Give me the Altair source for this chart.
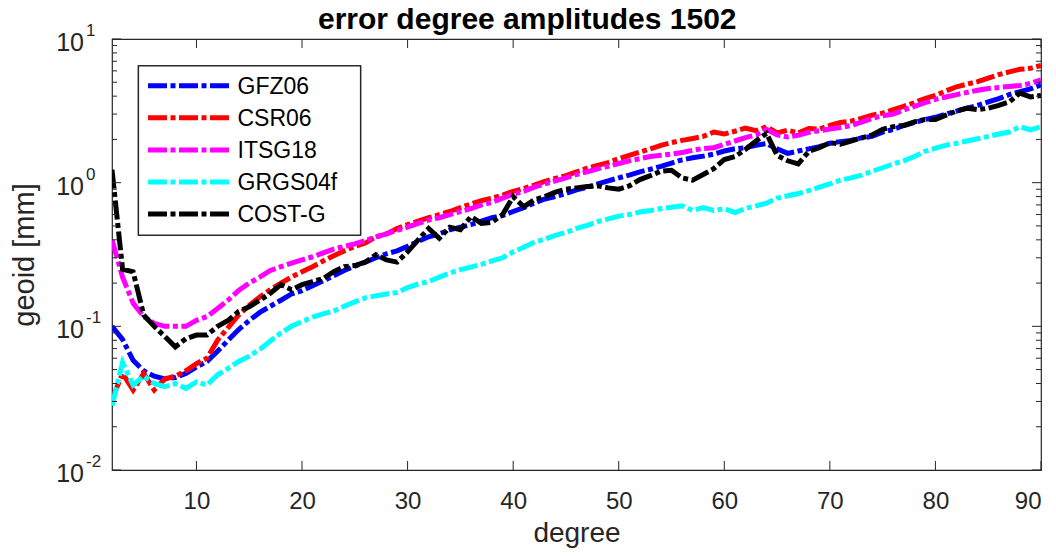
import altair as alt
import pandas as pd

degrees = list(range(2, 91))

gfz06 = [0.100, 0.081, 0.058, 0.049, 0.045, 0.043, 0.044, 0.047, 0.052, 0.057,
         0.067, 0.080, 0.095, 0.110, 0.125, 0.138, 0.152, 0.168, 0.177, 0.192,
         0.207, 0.225, 0.245, 0.262, 0.280, 0.300, 0.320, 0.335, 0.360, 0.390,
         0.420, 0.440, 0.470, 0.490, 0.510, 0.540, 0.570, 0.590, 0.630, 0.670,
         0.720, 0.770, 0.800, 0.840, 0.890, 0.930, 0.980, 1.030, 1.080, 1.130,
         1.190, 1.240, 1.300, 1.370, 1.440, 1.490, 1.530, 1.580, 1.660, 1.720,
         1.750, 1.820, 1.870, 1.720, 1.600, 1.660, 1.720, 1.780, 1.880, 1.930,
         1.970, 2.050, 2.100, 2.250, 2.350, 2.500, 2.620, 2.750, 2.850, 3.000,
         3.150, 3.300, 3.450, 3.650, 3.850, 4.100, 4.300, 4.500, 4.800]

csr06 = [0.031, 0.047, 0.036, 0.047, 0.036, 0.043, 0.045, 0.049, 0.055, 0.060,
         0.080, 0.098, 0.120, 0.140, 0.160, 0.180, 0.200, 0.220, 0.240, 0.260,
         0.285, 0.310, 0.335, 0.360, 0.380, 0.420, 0.440, 0.480, 0.510, 0.540,
         0.570, 0.600, 0.630, 0.670, 0.710, 0.750, 0.780, 0.820, 0.870, 0.910,
         0.960, 1.020, 1.070, 1.120, 1.190, 1.260, 1.320, 1.380, 1.470, 1.550,
         1.630, 1.720, 1.820, 1.900, 1.970, 2.030, 2.100, 2.250, 2.180, 2.280,
         2.400, 2.300, 2.450, 2.220, 2.320, 2.220, 2.380, 2.360, 2.500, 2.620,
         2.680, 2.800, 2.950, 3.050, 3.220, 3.400, 3.600, 3.850, 4.050, 4.350,
         4.650, 4.850, 5.050, 5.350, 5.650, 5.900, 6.150, 6.250, 6.550]

itsg18 = [0.400, 0.220, 0.145, 0.117, 0.105, 0.100, 0.100, 0.100, 0.110, 0.117,
          0.133, 0.152, 0.178, 0.200, 0.220, 0.245, 0.260, 0.275, 0.290, 0.305,
          0.325, 0.345, 0.360, 0.375, 0.395, 0.420, 0.440, 0.465, 0.490, 0.520,
          0.550, 0.570, 0.600, 0.630, 0.660, 0.700, 0.730, 0.780, 0.830, 0.870,
          0.930, 0.980, 1.030, 1.080, 1.140, 1.190, 1.250, 1.300, 1.360, 1.420,
          1.470, 1.520, 1.550, 1.580, 1.620, 1.680, 1.730, 1.750, 1.850, 1.950,
          2.060, 2.150, 2.350, 2.150, 2.080, 2.140, 2.240, 2.300, 2.360, 2.420,
          2.500, 2.640, 2.800, 2.920, 3.000, 3.200, 3.400, 3.600, 3.800, 3.950,
          4.100, 4.250, 4.400, 4.520, 4.600, 4.670, 4.750, 4.900, 5.200]

grgs04f = [0.028, 0.056, 0.039, 0.045, 0.040, 0.038, 0.040, 0.037, 0.041, 0.039,
           0.046, 0.051, 0.057, 0.062, 0.069, 0.079, 0.090, 0.100, 0.108, 0.116,
           0.122, 0.128, 0.138, 0.148, 0.158, 0.163, 0.168, 0.172, 0.186, 0.197,
           0.205, 0.220, 0.235, 0.248, 0.258, 0.270, 0.285, 0.300, 0.330, 0.355,
           0.385, 0.405, 0.430, 0.450, 0.480, 0.505, 0.535, 0.560, 0.585, 0.600,
           0.625, 0.640, 0.660, 0.675, 0.690, 0.640, 0.670, 0.640, 0.660, 0.620,
           0.660, 0.690, 0.720, 0.780, 0.810, 0.840, 0.880, 0.930, 0.980, 1.040,
           1.080, 1.130, 1.200, 1.270, 1.350, 1.420, 1.520, 1.650, 1.740, 1.820,
           1.880, 1.950, 2.020, 2.100, 2.180, 2.250, 2.450, 2.330, 2.450]

costg = [1.230, 0.250, 0.240, 0.120, 0.100, 0.085, 0.072, 0.082, 0.087, 0.087,
         0.100, 0.110, 0.127, 0.137, 0.152, 0.170, 0.195, 0.180, 0.195, 0.205,
         0.215, 0.240, 0.260, 0.265, 0.280, 0.315, 0.290, 0.280, 0.330, 0.400,
         0.480, 0.410, 0.490, 0.470, 0.580, 0.520, 0.530, 0.600, 0.800, 0.680,
         0.760, 0.800, 0.860, 0.900, 0.920, 0.940, 0.950, 0.920, 0.900, 0.950,
         1.050, 1.120, 1.200, 1.220, 1.080, 1.040, 1.140, 1.250, 1.450, 1.520,
         1.700, 1.950, 2.200, 1.550, 1.420, 1.350, 1.650, 1.750, 1.900, 1.850,
         1.950, 2.050, 2.150, 2.350, 2.450, 2.500, 2.650, 2.750, 2.750, 2.950,
         3.150, 3.300, 3.220, 3.300, 3.450, 3.650, 4.200, 3.950, 4.050]

names = ["GFZ06", "CSR06", "ITSG18", "GRGS04f", "COST-G"]
colors = ["#0000ff", "#ff0000", "#ff00ff", "#00ffff", "#000000"]
series = [gfz06, csr06, itsg18, grgs04f, costg]

title_text = "error degree amplitudes 1502"
x_title = "degree"
y_title = "geoid [mm]"
x_ticks = [10, 20, 30, 40, 50, 60, 70, 80, 90]
y_major = [0.01, 0.1, 1, 10]
y_minor = [m * 10.0 ** e for e in (-2, -1, 0) for m in range(2, 10)]
y_label_vals = [10, 1, 0.1, 0.01]
y_label_exps = ["1", "0", "-1", "-2"]

rows = []
for k, (name, vals) in enumerate(zip(names, series)):
    for d, v in zip(degrees, vals):
        rows.append({"degree": d, "value": v, "model": name, "k": k})
df = pd.DataFrame(rows)
leg_df = pd.DataFrame({"model": names, "rank": list(range(len(names)))})

FONT = "Liberation Sans"
AX = "#262626"
W, H = 929, 431
DASH = [19, 3.5, 5, 3.5]
LW = 5

xscale = alt.Scale(domain=[2, 90], nice=False, zero=False)
yscale = alt.Scale(type="log", domain=[0.01, 10], nice=False)
cscale = alt.Scale(domain=names, range=colors)

lines = alt.Chart(df).mark_line(
    strokeWidth=LW, strokeDash=DASH, strokeCap="butt", clip=True
).encode(
    x=alt.X("degree:Q", scale=xscale,
            axis=alt.Axis(values=x_ticks, title=x_title, grid=False, ticks=False,
                          tickSize=0, domain=False, labelFontSize=24, labelFont=FONT,
                          labelColor=AX, labelPadding=19, titleFontSize=28,
                          titleFont=FONT, titleColor=AX, titleFontWeight="normal",
                          titlePadding=6)),
    y=alt.Y("value:Q", scale=yscale,
            axis=alt.Axis(labels=False, ticks=False, tickSize=0, grid=False,
                          domain=False, title=y_title, titleFontSize=29,
                          titleFont=FONT, titleColor=AX, titleFontWeight="normal",
                          titlePadding=73)),
    color=alt.Color("model:N", scale=cscale, legend=None),
    detail="k:N",
)

xt = pd.DataFrame({"degree": x_ticks})
ymaj = pd.DataFrame({"value": y_major})
ymin = pd.DataFrame({"value": y_minor})
ylab = pd.DataFrame({"value": y_label_vals, "exp": y_label_exps})

rule = dict(color=AX, strokeWidth=1)
xt_bottom = alt.Chart(xt).mark_rule(**rule).encode(
    x=alt.X("degree:Q", scale=xscale), y=alt.value(H), y2=alt.value(H - 9))
xt_top = alt.Chart(xt).mark_rule(**rule).encode(
    x=alt.X("degree:Q", scale=xscale), y=alt.value(0), y2=alt.value(9))
ymaj_l = alt.Chart(ymaj).mark_rule(**rule).encode(
    y=alt.Y("value:Q", scale=yscale), x=alt.value(0), x2=alt.value(9))
ymaj_r = alt.Chart(ymaj).mark_rule(**rule).encode(
    y=alt.Y("value:Q", scale=yscale), x=alt.value(W), x2=alt.value(W - 9))
ymin_l = alt.Chart(ymin).mark_rule(**rule).encode(
    y=alt.Y("value:Q", scale=yscale), x=alt.value(0), x2=alt.value(5))
ymin_r = alt.Chart(ymin).mark_rule(**rule).encode(
    y=alt.Y("value:Q", scale=yscale), x=alt.value(W), x2=alt.value(W - 5))

ylab_base = alt.Chart(ylab).mark_text(
    text="10", align="right", baseline="middle", fontSize=25, font=FONT,
    color=AX, dy=4).encode(y=alt.Y("value:Q", scale=yscale), x=alt.value(-28))
ylab_exp = alt.Chart(ylab).mark_text(
    align="left", baseline="middle", fontSize=17, font=FONT, color=AX,
    dy=-8).encode(y=alt.Y("value:Q", scale=yscale), x=alt.value(-26),
                  text="exp:N")

# legend (drawn inside the plot, top-left)
leg_box = alt.Chart(leg_df).mark_rect(
    fill="white", stroke=AX, strokeWidth=1.2
).encode(x=alt.value(26.5), x2=alt.value(248.5), y=alt.value(27), y2=alt.value(196))
leg_lines = alt.Chart(leg_df).transform_calculate(
    ly="46.7 + datum.rank * 32.1"
).mark_rule(strokeWidth=LW, strokeDash=DASH, strokeCap="butt").encode(
    x=alt.value(36), x2=alt.value(117.5),
    y=alt.Y("ly:Q", scale=None),
    color=alt.Color("model:N", scale=cscale, legend=None),
)
leg_text = alt.Chart(leg_df).transform_calculate(
    ly="46.7 + datum.rank * 32.1"
).mark_text(align="left", baseline="middle", fontSize=23, font=FONT,
            color="#000000", dy=1).encode(
    x=alt.value(125.5), y=alt.Y("ly:Q", scale=None), text="model:N")

title = alt.Chart(pd.DataFrame({"t": [title_text]})).mark_text(
    align="left", baseline="alphabetic", fontSize=30, fontWeight="bold",
    font=FONT, color="#000000"
).encode(x=alt.value(206), y=alt.value(-10), text="t:N")

chart = alt.layer(
    lines, xt_bottom, xt_top, ymaj_l, ymaj_r, ymin_l, ymin_r, ylab_base, ylab_exp,
    leg_box, leg_lines, leg_text, title
).properties(
    width=W, height=H,
    autosize=alt.AutoSizeParams(type="none"),
    padding={"left": 104, "top": 31, "right": 6, "bottom": 78},
).configure_view(stroke=AX, strokeWidth=1.2).configure_axis(grid=False)

chart.save("out.html", embed_options={"renderer": "svg", "actions": False})
